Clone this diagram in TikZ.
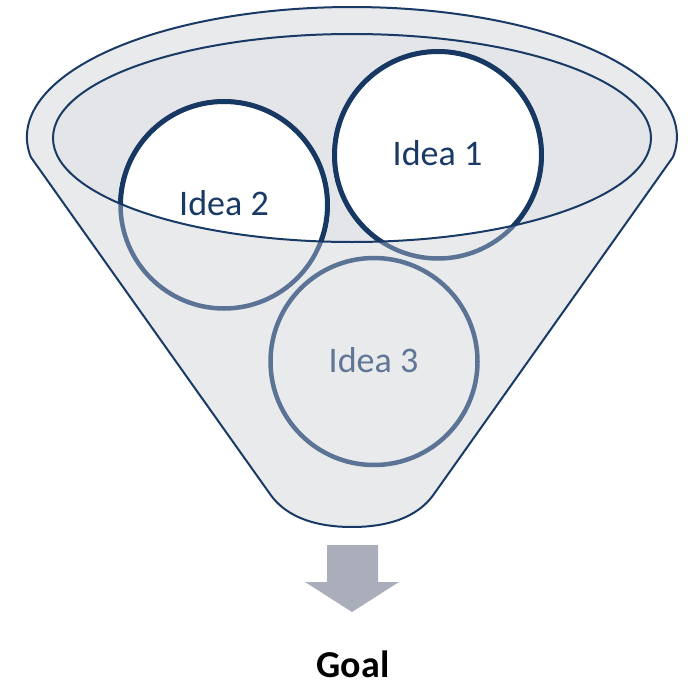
\documentclass[tikz,border=0pt]{standalone}
\usepackage{fontspec}
\setmainfont{Carlito}
\definecolor{navy}{HTML}{1A3A66}
\definecolor{navyc}{HTML}{173862}
\definecolor{slate}{HTML}{5B7394}
\definecolor{slatetext}{HTML}{5F7696}
\definecolor{funnelfill}{HTML}{E9EAEC}
\definecolor{mouthfill}{HTML}{E3E5E9}
\definecolor{arrowgrey}{HTML}{A9AEBA}
\tikzset{
  funnelline/.style={draw=navy, line width=2pt},
  ideaback/.style={circle, minimum size=207pt, inner sep=0pt, draw=slate, line width=4.5pt},
  ideafront/.style={circle, minimum size=207pt, inner sep=0pt, draw=navyc, fill=white, line width=5pt},
  ideatext/.style={anchor=base, font=\fontsize{36}{40}\selectfont},
}
\begin{document}
\begin{tikzpicture}[x=1pt, y=-1pt]
\useasboundingbox (0,0) rectangle (688,685);
% funnel body
\draw[funnelline, fill=funnelfill]
  (673,157) arc[start angle=8.85, end angle=-188.85, x radius=325, y radius=130]
  -- (270,494) .. controls (279,507) and (300,527) .. (352,527)
  .. controls (404,527) and (425,507) .. (434,494) -- cycle;
% mouth
\fill[mouthfill] (352,138) ellipse[x radius=299, y radius=104];
% circles seen through the funnel
\node[ideaback] (l2) at (224,205) {};
\node[ideaback] (l1) at (438,155) {};
\node[ideaback] (l3) at (374,361.5) {};
% circles inside the mouth
\begin{scope}
  \clip (352,138) ellipse[x radius=299, y radius=104];
  \node[ideafront] (d2) at (l2.center) {};
  \node[ideafront] (d1) at (l1.center) {};
\end{scope}
\draw[funnelline] (352,138) ellipse[x radius=299, y radius=104];
% labels
\node[ideatext, text=navy] (t1) at (437.5,165) {Idea 1};
\node[ideatext, text=navy] (t2) at (224,215) {Idea 2};
\node[ideatext, text=slatetext] (t3) at (373.5,372) {Idea 3};
% arrow
\fill[arrowgrey] (327,545) -- (378,545) -- (378,582) -- (399,582) -- (352,612) -- (305,582) -- (327,582) -- cycle;
\node[anchor=base, inner sep=0pt, font=\fontsize{38}{42}\selectfont\bfseries] (goal) at (353,677) {Goal};
\end{tikzpicture}
\end{document}
